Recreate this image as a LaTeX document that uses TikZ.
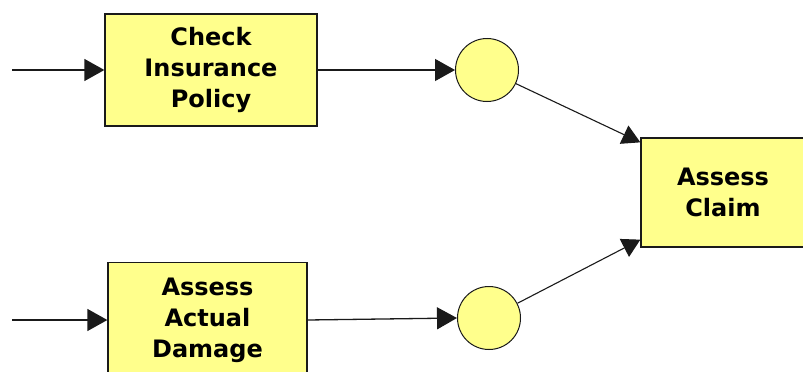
\documentclass[tikz,border=0pt]{standalone}
\usepackage{fontspec}
\setmainfont{DejaVu Sans}
\usetikzlibrary{arrows.meta}
\definecolor{boxfill}{HTML}{FFFF8C}
\definecolor{ink}{HTML}{1A1A1A}
\begin{document}
\begin{tikzpicture}[x=1pt,y=-1pt,
  proc/.style={draw=ink, line width=1.3pt, fill=boxfill, inner sep=0pt, align=center,
    font=\fontsize{24}{31}\selectfont\bfseries},
  place/.style={circle, draw=ink, line width=1pt, fill=boxfill, minimum size=63pt, inner sep=0pt},
  flow/.style={draw=ink, line width=1.3pt, -{Triangle[length=20pt,width=22pt]}},
  dflow/.style={draw=ink, line width=1.1pt, -{Triangle[length=18pt,width=20pt]}}]
\useasboundingbox (0,0) rectangle (803,372);
\clip (0,0) rectangle (803,372);
\fill[white] (0,0) rectangle (803,372);
\node[proc, minimum width=212pt, minimum height=112pt] (b1) at (211,70) {Check\\Insurance\\Policy};
\node[proc, minimum width=199pt, minimum height=115pt] (b2) at (207.5,320) {Assess\\Actual\\Damage};
\node[proc, minimum width=164pt, minimum height=109pt] (b3) at (723,192.5) {Assess\\Claim};
\node[place] (p1) at (487,70) {};
\node[place] (p2) at (489,318) {};
\coordinate (s1) at (12,70);
\coordinate (s2) at (12,320);
\draw[flow] (s1) -- (b1.west);
\draw[flow] (s2) -- (b2.west);
\draw[flow] (b1.east) -- (p1.west);
\draw[flow] (b2.east) -- (p2.west);
\draw[dflow] (p1) -- ([yshift=-5pt]b3.north west);
\draw[dflow] (p2) -- ([yshift=8pt]b3.south west);
\end{tikzpicture}
\end{document}
